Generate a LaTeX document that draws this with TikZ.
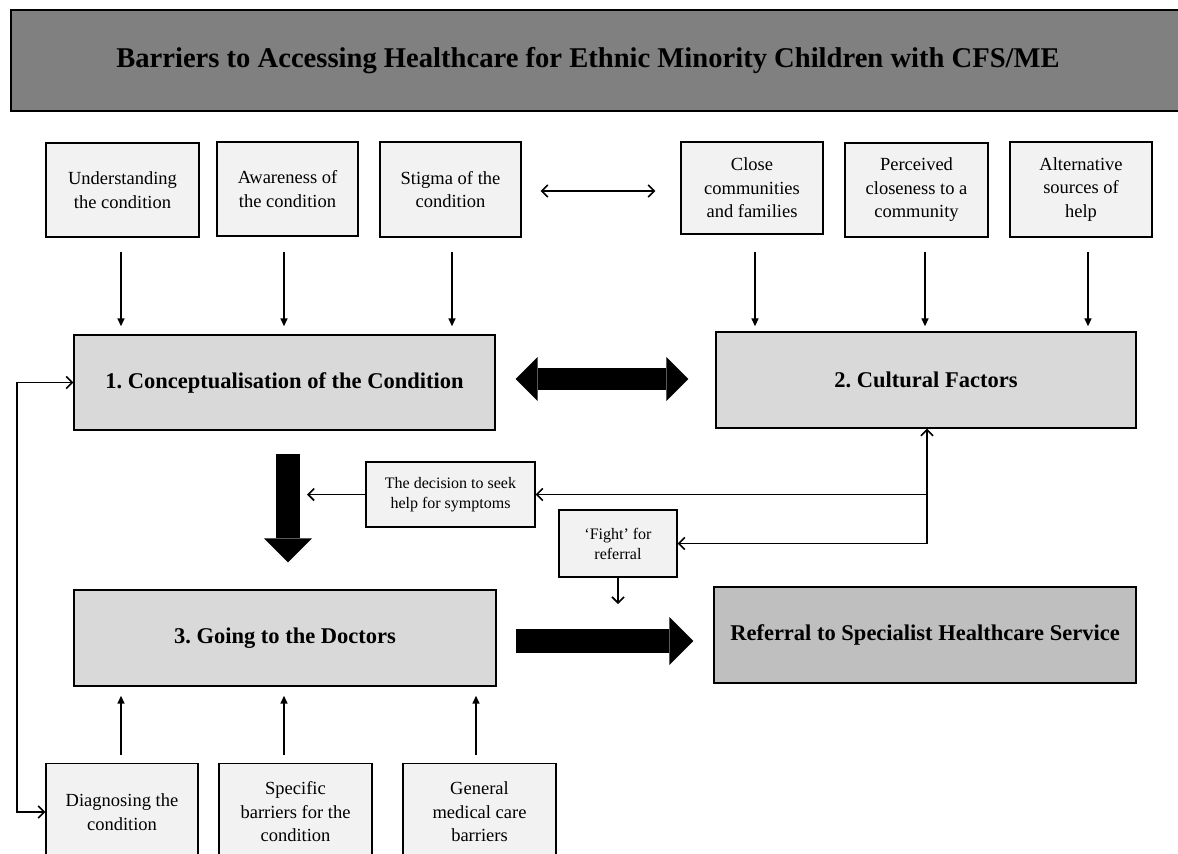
\documentclass[tikz,border=0pt]{standalone}
\usepackage{fontspec}
\setmainfont{Liberation Serif}
\usetikzlibrary{arrows.meta,calc}
\definecolor{titlegray}{HTML}{808080}
\definecolor{maingray}{HTML}{D9D9D9}
\definecolor{lightgray2}{HTML}{F2F2F2}
\definecolor{refgray}{HTML}{BFBFBF}
\tikzset{
  smallbox/.style={draw, line width=1.4pt, fill=lightgray2, align=center, inner sep=0pt,
    font=\fontsize{18.5}{23.5}\selectfont},
  midbox/.style={draw, line width=1.4pt, fill=lightgray2, align=center, inner sep=0pt,
    font=\fontsize{16}{20}\selectfont},
  mainbox/.style={draw, line width=1.4pt, fill=maingray, align=center, inner sep=0pt,
    minimum width=421pt, minimum height=95pt, font=\fontsize{22.5}{27}\selectfont\bfseries},
  thinarrow/.style={line width=1.5pt, -{Triangle[length=8pt,width=7pt]}},
  barb/.style={line width=1.6pt, -{Straight Barb[length=6pt,width=12pt,line width=1.6pt]}},
  barbboth/.style={line width=1.6pt, {Straight Barb[length=6pt,width=12pt,line width=1.6pt]}-{Straight Barb[length=6pt,width=12pt,line width=1.6pt]}},
  bigarrow/.style={line width=24pt, -{Triangle[length=24pt,width=48pt,line width=0pt]}},
  bigboth/.style={line width=22pt, {Triangle[length=22pt,width=44pt,line width=0pt]}-{Triangle[length=22pt,width=44pt,line width=0pt]}},
}
\begin{document}
\begin{tikzpicture}[x=1pt,y=-1pt]
\frenchspacing
\useasboundingbox (0,0) rectangle (1178,854);
\fill[white] (0,0) rectangle (1178,854);
% title
\fill[titlegray] (11,10) rectangle (1190,111);
\draw[line width=1.6pt] (1190,10) -- (11,10) -- (11,111) -- (1190,111);
\node[font=\fontsize{28.6}{33}\selectfont\bfseries, inner sep=0pt] (title) at (588,61)
  {Barriers to Accessing Healthcare for Ethnic Minority Children with CFS/ME};

% top boxes
\node[smallbox, minimum width=153pt, minimum height=94pt] (u) at (122.5,190) {Understanding\\the condition};
\node[smallbox, minimum width=141pt, minimum height=94pt] (a) at (287.5,189) {Awareness of\\the condition};
\node[smallbox, minimum width=141pt, minimum height=95pt] (s) at (450.5,189.5) {Stigma of the\\condition};
\node[smallbox, minimum width=142pt, minimum height=92pt] (cl) at (752,188) {Close\\communities\\and families};
\node[smallbox, minimum width=143pt, minimum height=94pt] (pe) at (916.5,190) {Perceived\\closeness to a\\community};
\node[smallbox, minimum width=142pt, minimum height=95pt] (al) at (1081,189.5) {Alternative\\sources of\\help};

% main boxes
\node[mainbox] (c1) at (284.5,382.5) {1. Conceptualisation of the Condition};
\node[mainbox, minimum width=420pt, minimum height=96pt] (c2) at (926,380) {2. Cultural Factors};
\node[mainbox, minimum width=422pt, minimum height=96pt] (c3) at (285,638) {3. Going to the Doctors};
\node[mainbox, fill=refgray, minimum width=422pt, minimum height=96pt] (ref) at (925,635) {Referral to Specialist Healthcare Service};

% middle boxes
\node[midbox, minimum width=169pt, minimum height=65pt] (dec) at (450.5,494.5) {The decision to seek\\help for symptoms};
\node[midbox, minimum width=118pt, minimum height=67pt] (fight) at (618,543.5) {‘Fight’ for\\referral};

% bottom boxes
\node[smallbox, minimum width=152pt, minimum height=97pt] (dg) at (122,812) {Diagnosing the\\condition};
\node[smallbox, minimum width=153pt, minimum height=97pt] (sp) at (295.5,812) {Specific\\barriers for the\\condition};
\node[smallbox, minimum width=153pt, minimum height=97pt] (ge) at (479.5,812) {General\\medical care\\barriers};

% top arrows
\draw[thinarrow, shorten <=14pt, shorten >=8pt] ([xshift=-1.5pt]u.south) -- ([xshift=-1.5pt]u.south |- c1.north);
\draw[thinarrow, shorten <=15pt, shorten >=8pt] ([xshift=-3.5pt]a.south) -- ([xshift=-3.5pt]a.south |- c1.north);
\draw[thinarrow, shorten <=14pt, shorten >=8pt] ([xshift=1.5pt]s.south) -- ([xshift=1.5pt]s.south |- c1.north);
\draw[thinarrow, shorten <=17pt, shorten >=5pt] ([xshift=3pt]cl.south) -- ([xshift=3pt]cl.south |- c2.north);
\draw[thinarrow, shorten <=14pt, shorten >=5pt] ([xshift=8.5pt]pe.south) -- ([xshift=8.5pt]pe.south |- c2.north);
\draw[thinarrow, shorten <=14pt, shorten >=5pt] ([xshift=7pt]al.south) -- ([xshift=7pt]al.south |- c2.north);

% thin double arrow
\draw[barbboth, shorten <=19pt, shorten >=25pt] ([yshift=-1.5pt]s.east) -- ([yshift=-1.5pt]s.east -| cl.west);

% big double arrow
\draw[bigboth, shorten <=20pt, shorten >=27pt] ([yshift=3.5pt]c1.east) -- ([yshift=3.5pt]c1.east -| c2.west);

% big down arrow
\draw[bigarrow, shorten <=23pt, shorten >=27pt] ([xshift=3.5pt]c1.south) -- ([xshift=3.5pt]c1.south |- c3.north);

% big right arrow
\draw[bigarrow, shorten <=19pt, shorten >=20pt] ([yshift=-3pt]c3.east) -- ([yshift=-3pt]c3.east -| ref.west);

% decision / fight connections
\coordinate (dl) at (307,494.5);
\coordinate (j1) at (927,494.5);
\coordinate (j2) at (927,543.5);
\coordinate (fd) at (618,604);
\draw[barb] (dec.west) -- (dl);
\draw[barb] (j1) -- (dec.east);
\draw[barb] (j2) -- (fight.east);
\draw[line width=1.6pt] (j2) -- (j1);
\draw[barb] (j1) -- (j1 |- c2.south);
\draw[barb] (fight.south) -- (fd);

% bottom arrows
\draw[thinarrow, shorten <=8pt, shorten >=9pt] ([xshift=-1pt]dg.north) -- ([xshift=-1pt]dg.north |- c3.south);
\draw[thinarrow, shorten <=8pt, shorten >=9pt] ([xshift=-11.5pt]sp.north) -- ([xshift=-11.5pt]sp.north |- c3.south);
\draw[thinarrow, shorten <=8pt, shorten >=9pt] ([xshift=-3.5pt]ge.north) -- ([xshift=-3.5pt]ge.north |- c3.south);

% left loop
\coordinate (lx) at (17,0);
\draw[barbboth] (c1.west) -| (lx |- dg.west) -- (dg.west);
\end{tikzpicture}
\end{document}
